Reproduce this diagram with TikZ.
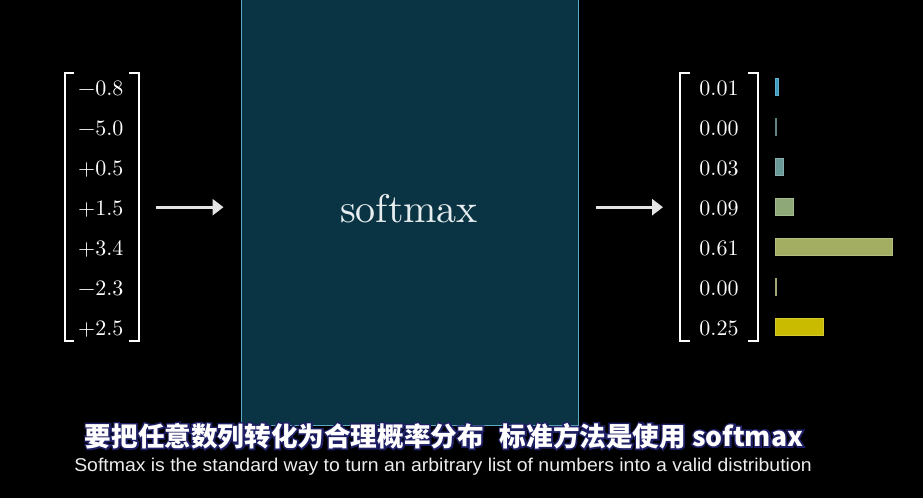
\documentclass[tikz,border=0pt]{standalone}
\usepackage{fontspec}
\usetikzlibrary{arrows.meta}
\newfontfamily\cjk{Noto Sans CJK SC}
\newfontfamily\subfont{Liberation Sans}[FakeStretch=1.05]
\newfontfamily\lmten{lmroman10-regular}[Extension=.otf]
\definecolor{boxfill}{RGB}{10,52,67}
\definecolor{boxedge}{RGB}{90,170,196}
\definecolor{arrowc}{RGB}{228,228,228}
\definecolor{halo}{RGB}{30,30,100}
\definecolor{b1}{RGB}{61,155,192}
\definecolor{b2}{RGB}{58,100,106}
\definecolor{b3}{RGB}{106,154,152}
\definecolor{b4}{RGB}{143,168,120}
\definecolor{b5}{RGB}{163,174,98}
\definecolor{b6}{RGB}{138,144,80}
\definecolor{b7}{RGB}{201,187,0}
\newcommand\haloed[1]{\rlap{\color{halo}\special{pdf:literal direct 1 Tr 3.2 w}#1\special{pdf:literal direct 0 Tr 1 w}}#1}
\tikzset{
  num/.style={font=\lmten\fontsize{22}{26}\selectfont, text=white, inner sep=0pt},
  brk/.style={draw=white, line width=2pt, line cap=butt},
  arr/.style={draw=arrowc, line width=2.8pt, -{Triangle[length=11pt,width=16pt]}, shorten <=17pt, shorten >=17pt},
  bar/.style={line width=0.8pt},
  mat/.style={inner sep=0pt, minimum height=268pt}
}
\begin{document}
\begin{tikzpicture}[x=1pt,y=-1pt]
\fill[black] (0,0) rectangle (923,498);
\useasboundingbox (0,0) rectangle (923,498);
% central box
\node (box) [draw=boxedge, fill=boxfill, line width=1.3pt, inner sep=0pt,
  minimum width=337pt, minimum height=440pt, anchor=south west] at (240.5,426) {};
\node (sm) [font=\lmten\fontsize{40}{48}\selectfont, text={rgb,255:red,232;green,238;blue,240}, anchor=base, inner sep=0pt] at (409,222) {softmax};
% left matrix
\node (lm) [mat, minimum width=74pt, anchor=north west] at (65,73) {};
\draw[brk] (74,73) -- (65,73) -- (65,341) -- (74,341);
\draw[brk] (129,73) -- (139,73) -- (139,341) -- (129,341);
\foreach \v [count=\i] in {−0.8,−5.0,+0.5,+1.5,+3.4,−2.3,+2.5}{
  \node (l\i) [num, anchor=base west] at (78,{55+40*\i}) {\v};
}
% right matrix
\node (rm) [mat, minimum width=77pt, anchor=north west] at (680,73) {};
\draw[brk] (690,73) -- (680,73) -- (680,341) -- (690,341);
\draw[brk] (748,73) -- (757.5,73) -- (757.5,341) -- (748,341);
\foreach \v [count=\i] in {0.01,0.00,0.03,0.09,0.61,0.00,0.25}{
  \node (r\i) [num, anchor=base] at (719,{55+40*\i}) {\v};
}
% arrows
\draw[arr] (lm.east) -- (box.west |- lm.east);
\draw[arr] (box.east |- rm.west) -- (rm.west);
% bars
\foreach \w/\c [count=\i] in {3/b1,1.2/b2,8/b3,18/b4,117/b5,1.6/b6,48/b7}{
  \draw[bar, fill=\c, draw=\c!80!white] (775,{78.5+40*(\i-1)}) rectangle ++(\w,17);
}
% subtitles
\node (zh) [font=\cjk\bfseries\fontsize{26.6}{30}\selectfont, text=white, inner sep=0pt] at (444,436)
  {\haloed{要把任意数列转化为合理概率分布\hspace{0.6em}标准方法是使用 softmax}};
\node (en) [font=\subfont\fontsize{18.5}{22}\selectfont, text={rgb,255:red,236;green,236;blue,236}, inner sep=0pt, anchor=base] at (443,471)
  {Softmax is the standard way to turn an arbitrary list of numbers into a valid distribution};
\end{tikzpicture}
\end{document}
